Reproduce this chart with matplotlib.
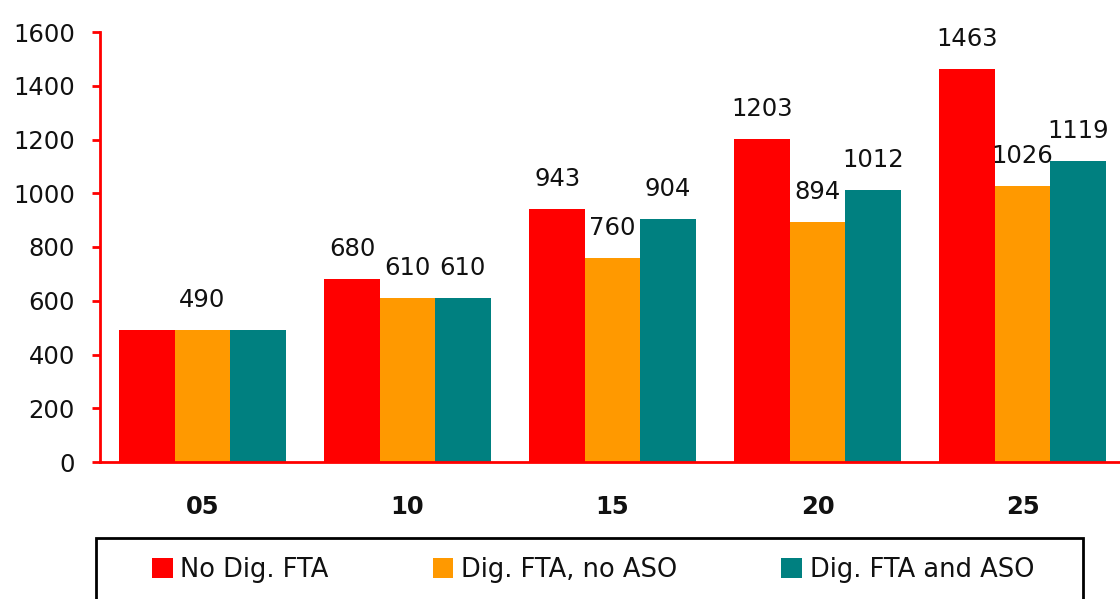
import matplotlib
matplotlib.use("Agg")
import matplotlib.pyplot as plt
from matplotlib.patches import Rectangle, Patch
import numpy as np

plt.rcParams['font.family'] = ['DejaVu Sans']

categories = ["05", "10", "15", "20", "25"]
series_names = ["No Dig. FTA", "Dig. FTA, no ASO", "Dig. FTA and ASO"]
no_dig_fta = [490, 680, 943, 1203, 1463]
dig_fta_no_aso = [490, 610, 760, 894, 1026]
dig_fta_and_aso = [490, 610, 904, 1012, 1119]
y_ticks = [0, 200, 400, 600, 800, 1000, 1200, 1400, 1600]

colors = ["#FF0000", "#FF9900", "#008080"]
series = [no_dig_fta, dig_fta_no_aso, dig_fta_and_aso]
fs = 17.5

fig = plt.figure(figsize=(11.2, 5.99), dpi=100)
ax = fig.add_axes([100 / 1120, 137 / 599, 1020 / 1120, 430 / 599])

x = np.arange(len(categories))
width = 0.27
for i, (vals, col) in enumerate(zip(series, colors)):
    offs = (i - 1) * width
    ax.bar(x + offs, vals, width, color=col, edgecolor='none', zorder=2)
    for j, v in enumerate(vals):
        # the first group has identical values, labelled once over the middle bar
        if j == 0 and i != 1:
            continue
        ax.annotate(str(v), (x[j] + offs, v), xytext=(0, 13),
                    textcoords='offset points', ha='center', va='bottom',
                    fontsize=fs, color='#111111')

ax.set_xlim(-0.5, -0.5 + 1020 / 205)
ax.set_ylim(0, 1600)
ax.set_yticks(y_ticks)
ax.set_yticklabels([str(t) for t in y_ticks], fontsize=fs, color='#111111')
ax.set_xticks(x)
ax.set_xticklabels(categories, fontsize=fs, fontweight='bold', color='#111111')

for s in ['top', 'right']:
    ax.spines[s].set_visible(False)
for s in ['left', 'bottom']:
    ax.spines[s].set_color('#FF0000')
    ax.spines[s].set_linewidth(2)
ax.tick_params(axis='y', direction='out', length=6, width=2, color='#FF0000', pad=12)
ax.tick_params(axis='x', length=0, pad=24)

# legend frame running off the lower edge
fig.patches.append(Rectangle((96 / 1120, -0.05), (1083 - 96) / 1120, (599 - 538) / 599 + 0.05,
                             transform=fig.transFigure, fill=False,
                             edgecolor='black', linewidth=2))
handles = [Patch(facecolor=c, edgecolor='none') for c in colors]
fig.legend(handles, series_names, loc='center left',
           bbox_to_anchor=(129 / 1120, 1 - 570 / 599), ncol=3, frameon=False,
           fontsize=18.5, handlelength=0.8, handleheight=0.8, handletextpad=0.3,
           columnspacing=4.05, labelcolor='#111111')

fig.savefig("out.png", dpi=100)
